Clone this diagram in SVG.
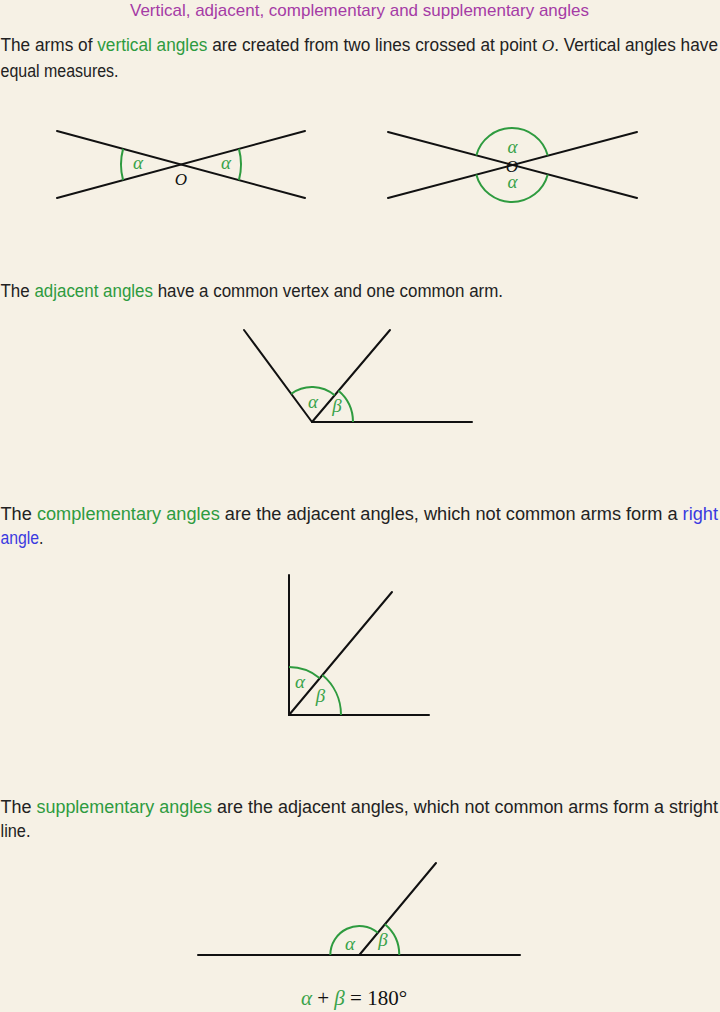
<svg xmlns="http://www.w3.org/2000/svg" width="720" height="1012" viewBox="0 0 720 1012">
<style>
.bg{fill:#f6f1e5}
.txt{font-family:"Liberation Sans",Arial,sans-serif;font-size:17.5px;fill:#222}
.title{font-family:"Liberation Sans",Arial,sans-serif;font-size:17px;fill:#a53ba5}
.g{fill:#2e9b3f}
.b{fill:#3a3ae0}
.m{font-family:"Liberation Serif","Times New Roman",serif;font-style:italic}
.lbl{font-family:"Liberation Serif","Times New Roman",serif;font-style:italic;font-size:19px;fill:#3aa34a;text-anchor:middle}
.lblk{font-family:"Liberation Serif","Times New Roman",serif;font-style:italic;font-size:17px;fill:#111;text-anchor:middle}
.ln{stroke:#111;stroke-width:2;fill:none;stroke-linecap:round}
.arc{stroke:#2e9b3f;stroke-width:2;fill:none}
.eq{font-family:"Liberation Serif","Times New Roman",serif;font-size:21px;fill:#111;text-anchor:middle}
</style>
<rect class="bg" x="0" y="0" width="720" height="1012"/>

<g id="texts">
<text class="title" x="130" y="16" textLength="459" lengthAdjust="spacingAndGlyphs">Vertical, adjacent, complementary and supplementary angles</text>
<text class="txt" x="0.5" y="51" textLength="717.5" lengthAdjust="spacingAndGlyphs">The arms of <tspan class="g">vertical angles</tspan> are created from two lines crossed at point <tspan class="m">O</tspan>. Vertical angles have</text>
<text class="txt" x="0.5" y="77" textLength="118" lengthAdjust="spacingAndGlyphs">equal measures.</text>
<text class="txt" x="0.5" y="297" textLength="502.5" lengthAdjust="spacingAndGlyphs">The <tspan class="g">adjacent angles</tspan> have a common vertex and one common arm.</text>
<text class="txt" x="0.5" y="520" textLength="717.5" lengthAdjust="spacingAndGlyphs">The <tspan class="g">complementary angles</tspan> are the adjacent angles, which not common arms form a <tspan class="b">right</tspan></text>
<text class="txt" x="0.5" y="544" textLength="43" lengthAdjust="spacingAndGlyphs"><tspan class="b">angle</tspan>.</text>
<text class="txt" x="0.5" y="813" textLength="717.5" lengthAdjust="spacingAndGlyphs">The <tspan class="g">supplementary angles</tspan> are the adjacent angles, which not common arms form a stright</text>
<text class="txt" x="0.5" y="837" textLength="30" lengthAdjust="spacingAndGlyphs">line.</text>
</g>

<g id="connectors">
<line class="ln" x1="57" y1="131" x2="305" y2="198"/>
<line class="ln" x1="57" y1="198" x2="305" y2="131"/>
<line class="ln" x1="388" y1="132" x2="637" y2="198"/>
<line class="ln" x1="388" y1="198" x2="637" y2="132"/>
<line class="ln" x1="312" y1="422" x2="472" y2="422"/>
<line class="ln" x1="312" y1="422" x2="244" y2="330"/>
<line class="ln" x1="312" y1="422" x2="390" y2="330"/>
<line class="ln" x1="289" y1="715" x2="289" y2="575"/>
<line class="ln" x1="289" y1="715" x2="429" y2="715"/>
<line class="ln" x1="289" y1="715" x2="392" y2="592"/>
<line class="ln" x1="198" y1="955" x2="520" y2="955"/>
<line class="ln" x1="359.3" y1="955" x2="436" y2="863"/>
</g>

<g id="vertical-angles-1">
<path class="arc" d="M123.07,148.87 A60 60 0 0 0 123.07,180.13"/>
<path class="arc" d="M238.93,148.87 A60 60 0 0 1 238.93,180.13"/>
<text class="lbl" x="138" y="169">α</text>
<text class="lbl" x="226" y="169">α</text>
<text class="lblk" x="181" y="185">O</text>
</g>

<g id="vertical-angles-2">
<path class="arc" d="M476.24,155.52 A37 37 0 0 1 547.76,155.52"/>
<path class="arc" d="M476.24,174.48 A37 37 0 0 0 547.76,174.48"/>
<text class="lbl" x="512.5" y="153">α</text>
<text class="lbl" x="512.5" y="188">α</text>
<text class="lblk" x="512" y="172">O</text>
</g>

<g id="adjacent-angles">
<path class="arc" d="M291.2,393.85 A35 35 0 0 1 334.64,395.3"/>
<path class="arc" d="M338.52,390.72 A41 41 0 0 1 353,422"/>
<text class="lbl" x="313" y="408">α</text>
<text class="lbl" x="337" y="412">β</text>
</g>

<g id="complementary-angles">
<path class="arc" d="M289,667 A48 48 0 0 1 319.8,678.2"/>
<path class="arc" d="M322.4,675.1 A52 52 0 0 1 341,715"/>
<text class="lbl" x="300" y="688">α</text>
<text class="lbl" x="320.5" y="702">β</text>
</g>

<g id="supplementary-angles">
<path class="arc" d="M330.3,955 A29 29 0 0 1 377.87,932.73"/>
<path class="arc" d="M384.9,924.3 A40 40 0 0 1 399.3,955"/>
<text class="lbl" x="350" y="950">α</text>
<text class="lbl" x="383" y="946">β</text>
</g>

<g id="formula">
<text class="eq" x="354" y="1005"><tspan font-style="italic" fill="#3aa34a">α</tspan> + <tspan font-style="italic" fill="#3aa34a">β</tspan> = 180°</text>
</g>
</svg>
